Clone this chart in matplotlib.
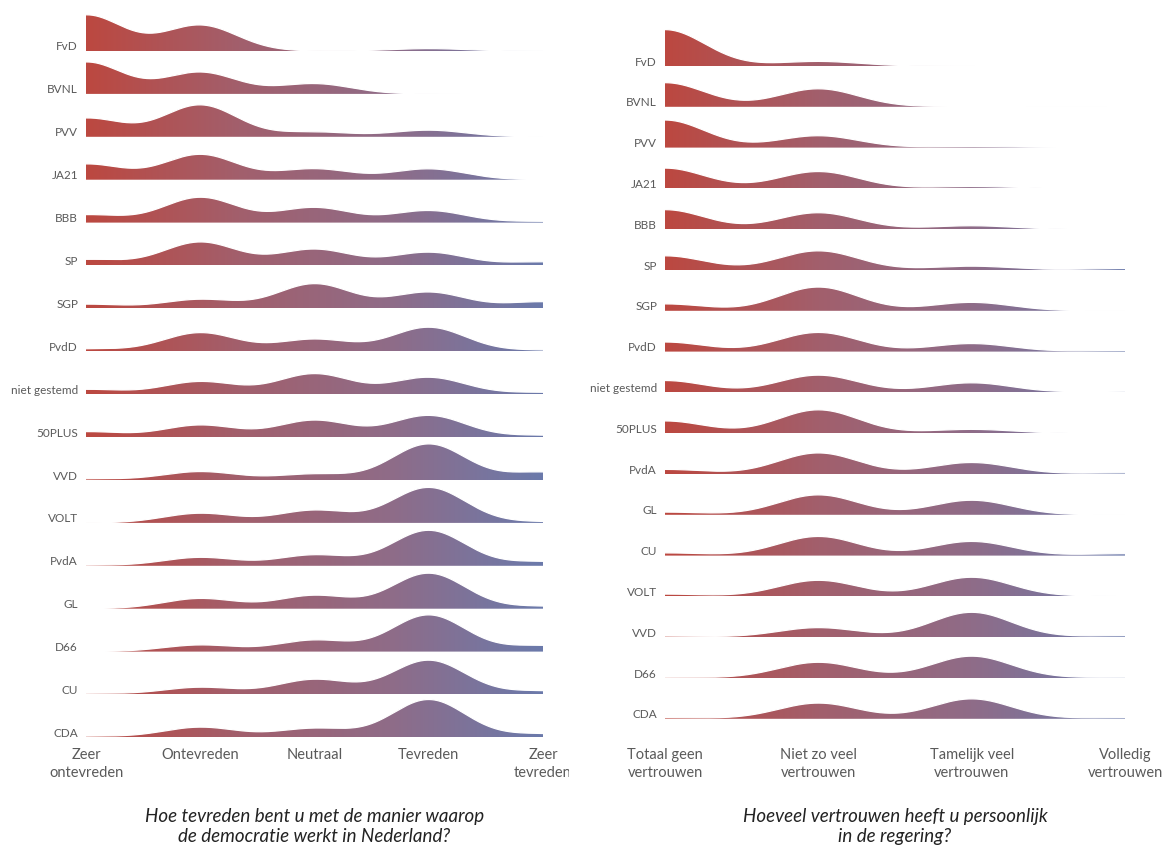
import numpy as np
import matplotlib.pyplot as plt
from matplotlib.colors import LinearSegmentedColormap
from matplotlib.transforms import Bbox, TransformedBbox

plt.rcParams['font.family'] = ['Lato', 'DejaVu Sans']

# links: tevredenheid met de democratie (percentages per antwoord)
partijen_links = ["FvD", "BVNL", "PVV", "JA21", "BBB", "SP", "SGP", "PvdD", "niet gestemd",
                  "50PLUS", "VVD", "VOLT", "PvdA", "GL", "D66", "CU", "CDA"]
zeer_ontevreden = [60, 53, 31, 26, 13, 10, 7, 4, 8, 9, 2, 0, 1, 0, 0, 2, 2]
ontevreden = [43, 36, 53, 42, 42, 39, 15, 31, 21, 20, 14, 16, 14, 17, 11, 12, 17]
neutraal = [0, 17, 8, 18, 25, 27, 41, 20, 34, 28, 10, 21, 18, 22, 19, 25, 15]
tevreden = [4, 0, 11, 18, 20, 22, 27, 40, 28, 36, 60, 59, 59, 59, 61, 57, 63]
zeer_tevreden = [0, 0, 0, 0, 2, 6, 11, 2, 3, 3, 13, 2, 7, 4, 10, 6, 6]
labels_links = ["Zeer\nontevreden", "Ontevreden", "Neutraal", "Tevreden", "Zeer\ntevreden"]

# rechts: vertrouwen in de regering
partijen_rechts = ["FvD", "BVNL", "PVV", "JA21", "BBB", "SP", "SGP", "PvdD", "niet gestemd",
                   "50PLUS", "PvdA", "GL", "CU", "VOLT", "VVD", "D66", "CDA"]
totaal_geen = [95, 63, 72, 53, 51, 37, 18, 25, 31, 32, 12, 7, 7, 6, 3, 2, 3]
niet_zo_veel = [12, 47, 31, 44, 43, 50, 62, 50, 45, 61, 55, 52, 50, 42, 25, 41, 41]
tamelijk_veel = [0, 1, 3, 5, 9, 10, 22, 21, 25, 10, 30, 38, 37, 50, 65, 57, 52]
volledig = [0, 0, 0, 0, 0, 4, 0, 3, 3, 0, 3, 0, 5, 2, 4, 2, 3]
labels_rechts = ["Totaal geen\nvertrouwen", "Niet zo veel\nvertrouwen",
                 "Tamelijk veel\nvertrouwen", "Volledig\nvertrouwen"]

titel_links = "Hoe tevreden bent u met de manier waarop\nde democratie werkt in Nederland?"
titel_rechts = "Hoeveel vertrouwen heeft u persoonlijk\nin de regering?"

W, H = 1164, 848
cmap = LinearSegmentedColormap.from_list("rb", ["#bc4840", "#a25f6c", "#8f6c88", "#6b7aab"])
grijs = "#5a5a5a"

fig = plt.figure(figsize=(W / 100, H / 100), dpi=100)


def paneel(x0, x1, y0, dy, sigma, schaal, partijen, kolommen, ticklabels, titel, clip_rechts):
    n = len(kolommen)
    ax = fig.add_axes([x0 / W, 0, (x1 - x0) / W, 1])
    ax.axis('off')
    px = (x1 - x0) / (n - 1)  # pixels per categorie
    x = np.linspace(0, n - 1, 700)
    grad = np.linspace(0, 1, 256).reshape(1, -1)
    for i, partij in enumerate(partijen):
        waarden = [k[i] for k in kolommen]
        dens = np.zeros_like(x)
        for k, p in enumerate(waarden):
            dens += p * np.exp(-(x - k) ** 2 / (2 * sigma ** 2))
        basis = y0 + i * dy
        top = basis - schaal * dens
        z = 2 + i
        poly = ax.fill_between(x, basis, top, facecolor='none', edgecolor='none', zorder=z)
        im = ax.imshow(grad, extent=[0, n - 1, basis, basis - schaal * dens.max() - 2],
                       aspect='auto', cmap=cmap, zorder=z, interpolation='bilinear')
        im.set_clip_path(poly.get_paths()[0], transform=ax.transData)
        ax.plot(x, top, color='white', lw=0.9, zorder=z + 0.5, solid_capstyle='butt')
        ax.text(-8 / px, basis - 4, partij, ha='right', va='center', fontsize=8.5,
                color=grijs, zorder=50)
    for k, lab in enumerate(ticklabels):
        t = ax.text(k, 748, lab, ha='center', va='top', fontsize=10.5, color=grijs,
                    linespacing=1.4, zorder=50)
        if clip_rechts is not None:
            t.set_clip_box(TransformedBbox(Bbox([[0, 0], [clip_rechts / W, 1]]), fig.transFigure))
            t.set_clip_on(True)
    ax.set_xlim(0, n - 1)
    ax.set_ylim(H, 0)
    fig.text(((x0 + x1) / 2) / W, 1 - 808 / H, titel, ha='center', va='top', fontsize=13.5,
             style='italic', color="#222222", linespacing=1.22)


paneel(86, 543, 51, 42.9, 0.32, 0.6, partijen_links,
       [zeer_ontevreden, ontevreden, neutraal, tevreden, zeer_tevreden],
       labels_links, titel_links, 569)
paneel(665, 1125, 66, 40.8, 0.26, 0.383, partijen_rechts,
       [totaal_geen, niet_zo_veel, tamelijk_veel, volledig],
       labels_rechts, titel_rechts, None)

fig.savefig("out.png", dpi=100, facecolor='white')
